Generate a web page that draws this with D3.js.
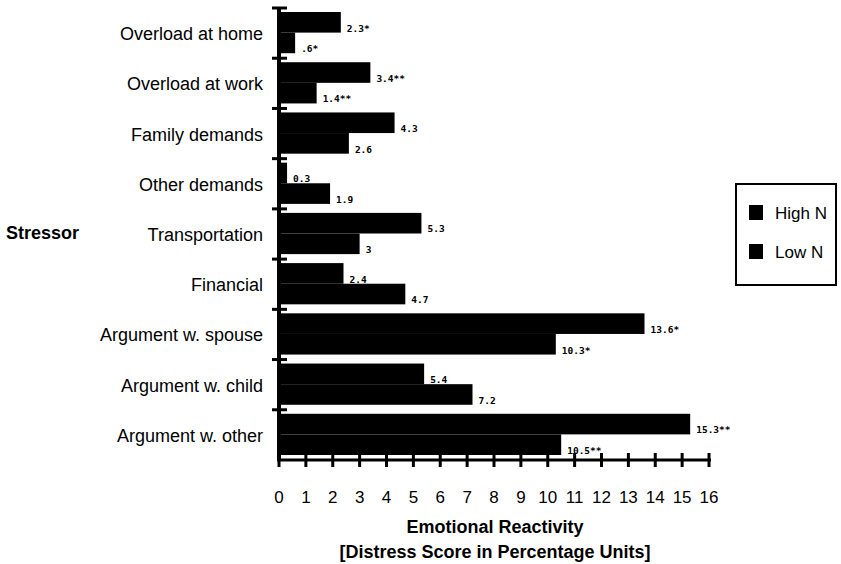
<!DOCTYPE html>
<html>
<head>
<meta charset="utf-8">
<script src="https://cdn.jsdelivr.net/npm/d3@7"></script>
<style>
  body { margin: 0; background: #fff; }
  svg { display: block; font-family: "Liberation Sans", Arial, sans-serif; }
</style>
</head>
<body>
<svg width="841" height="564"></svg>
<script>
let width = 841,
  height = 564;

// data
let stressors = [
  "Overload at home",
  "Overload at work",
  "Family demands",
  "Other demands",
  "Transportation",
  "Financial",
  "Argument w. spouse",
  "Argument w. child",
  "Argument w. other",
];
let highN = [2.3, 3.4, 4.3, 0.3, 5.3, 2.4, 13.6, 5.4, 15.3];
let lowN = [0.6, 1.4, 2.6, 1.9, 3, 4.7, 10.3, 7.2, 10.5];
let highLabels = ["2.3*", "3.4**", "4.3", "0.3", "5.3", "2.4", "13.6*", "5.4", "15.3**"];
let lowLabels = [".6*", "1.4**", "2.6", "1.9", "3", "4.7", "10.3*", "7.2", "10.5**"];
let xTicks = d3.range(0, 17);
let series = ["High N", "Low N"];

let svg = d3.select("svg").attr("viewBox", "0 0 " + width + " " + height);

let x = d3.scaleLinear().domain([0, 16]).range([279, 709]);
let y = d3.scaleBand().domain(stressors).range([8, 460]);
let y2 = d3.scaleBand().domain(series).range([4, y.bandwidth() - 5]);

// bars
let groups = svg
  .append("g")
  .selectAll("g")
  .data(stressors)
  .enter()
  .append("g")
  .attr("transform", (d) => "translate(0," + y(d) + ")");

let pairs = (d, i) => [
  { s: "High N", v: highN[i], t: highLabels[i] },
  { s: "Low N", v: lowN[i], t: lowLabels[i] },
];

groups
  .selectAll("rect")
  .data(pairs)
  .enter()
  .append("rect")
  .attr("x", x(0))
  .attr("y", (d) => y2(d.s))
  .attr("width", (d) => x(d.v) - x(0))
  .attr("height", y2.bandwidth())
  .attr("fill", "#000");

groups
  .selectAll("text")
  .data(pairs)
  .enter()
  .append("text")
  .attr("x", (d) => x(d.v) + 6)
  .attr("y", (d) => y2(d.s) + y2.bandwidth() - 1)
  .style("font-family", "'DejaVu Sans Mono', monospace")
  .style("font-weight", "bold")
  .style("font-size", "9.5px")
  .text((d) => d.t);

// y axis
let yAxis = svg.append("g");
yAxis
  .append("line")
  .attr("x1", x(0))
  .attr("x2", x(0))
  .attr("y1", y.range()[0])
  .attr("y2", y.range()[1])
  .attr("stroke", "#000")
  .attr("stroke-width", 4);

yAxis
  .selectAll(".tk")
  .data(stressors)
  .enter()
  .append("line")
  .attr("x1", x(0) - 7)
  .attr("x2", x(0) + 8)
  .attr("y1", (d) => y(d))
  .attr("y2", (d) => y(d))
  .attr("stroke", "#000")
  .attr("stroke-width", 3);

yAxis
  .selectAll("text")
  .data(stressors)
  .enter()
  .append("text")
  .attr("x", 263)
  .attr("y", (d) => y(d) + y.bandwidth() / 2 + 7)
  .attr("text-anchor", "end")
  .style("font-size", "18px")
  .text((d) => d);

svg
  .append("text")
  .attr("x", 6)
  .attr("y", 239)
  .style("font-size", "18px")
  .style("font-weight", "bold")
  .text("Stressor");

// x axis
let xAxis = svg.append("g");
xAxis
  .append("line")
  .attr("x1", x(0) - 2)
  .attr("x2", x(16) + 2)
  .attr("y1", 460)
  .attr("y2", 460)
  .attr("stroke", "#000")
  .attr("stroke-width", 3);

xAxis
  .selectAll(".tk")
  .data(xTicks)
  .enter()
  .append("line")
  .attr("x1", (d) => x(d))
  .attr("x2", (d) => x(d))
  .attr("y1", 453)
  .attr("y2", 467)
  .attr("stroke", "#000")
  .attr("stroke-width", 3);

xAxis
  .selectAll("text")
  .data(xTicks)
  .enter()
  .append("text")
  .attr("x", (d) => x(d))
  .attr("y", 503)
  .attr("text-anchor", "middle")
  .style("font-size", "17px")
  .text((d) => d);

svg
  .append("text")
  .attr("x", 495)
  .attr("y", 533)
  .attr("text-anchor", "middle")
  .style("font-size", "18px")
  .style("font-weight", "bold")
  .text("Emotional Reactivity");

svg
  .append("text")
  .attr("x", 495)
  .attr("y", 558)
  .attr("text-anchor", "middle")
  .style("font-size", "18px")
  .style("font-weight", "bold")
  .text("[Distress Score in Percentage Units]");

// legend
let legend = svg.append("g");
legend
  .append("rect")
  .attr("x", 736)
  .attr("y", 184)
  .attr("width", 100)
  .attr("height", 101)
  .attr("fill", "none")
  .attr("stroke", "#000")
  .attr("stroke-width", 2);

legend
  .selectAll(".sw")
  .data(series)
  .enter()
  .append("rect")
  .attr("x", 749)
  .attr("y", (d, i) => 205 + i * 39)
  .attr("width", 14)
  .attr("height", 15)
  .attr("fill", "#000");

legend
  .selectAll("text")
  .data(series)
  .enter()
  .append("text")
  .attr("x", 775)
  .attr("y", (d, i) => 219 + i * 39)
  .style("font-size", "17px")
  .text((d) => d);
</script>
</body>
</html>
